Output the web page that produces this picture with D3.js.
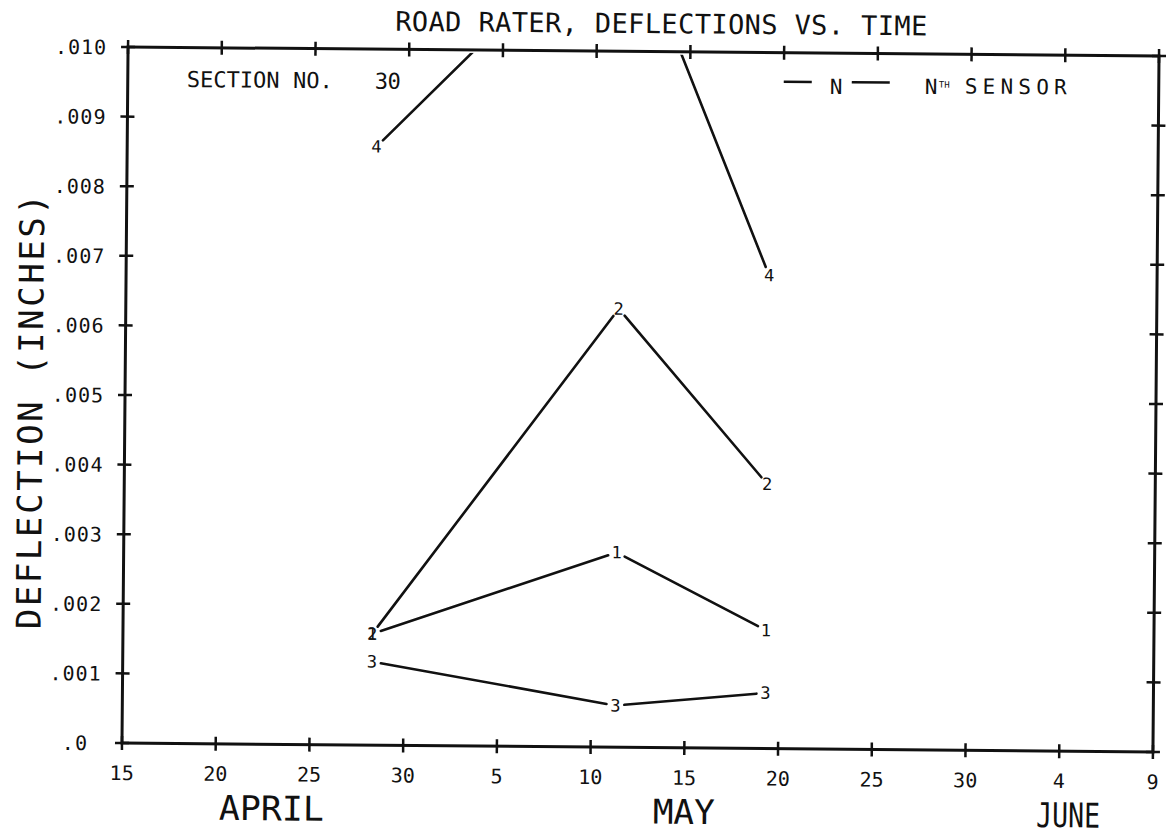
<!DOCTYPE html>
<html>
<head>
<meta charset="utf-8">
<script src="https://cdn.jsdelivr.net/npm/d3@7"></script>
<style>
  body { margin: 0; background: #fff; }
  text { font-family: "DejaVu Sans Mono", monospace; fill: #111; }
</style>
</head>
<body>
<div class="graph"></div>
<script>
// Days are counted from April 15
const tickDays = [0, 5, 10, 15, 20, 25, 30, 35, 40, 45, 50, 55];
const tickLabels = ["15", "20", "25", "30", "5", "10", "15", "20", "25", "30", "4", "9"];
const months = ["APRIL", "MAY", "JUNE"];
const monthDays = [8, 30, 50.5];

const deflTicks = [0, .001, .002, .003, .004, .005, .006, .007, .008, .009, .010];
const deflLabels = [".0", ".001", ".002", ".003", ".004", ".005", ".006", ".007", ".008", ".009", ".010"];

// test dates (Apr 28, May 11, May 19) and deflections per sensor
const testDays = [13.3, 26.3, 34.3];
const sensorNames = ["1", "2", "3", "4"];
const sensor1 = [.0016, .0028, .0017];
const sensor2 = [.0016, .0063, .0038];
const sensor3 = [.0012, .0006, .0008];
const sensor4 = [.0086, .0121, .0068];
const sensors = [sensor1, sensor2, sensor3, sensor4];

const W = 1171, H = 836;
const frame = {left: 125, right: 1156, top: 51.5, bottom: 747.5};

const svg = d3.select(".graph").append("svg")
  .attr("width", W).attr("height", H);

// the scanned sheet is slightly rotated
const g = svg.append("g")
  .attr("transform", "rotate(0.5, 640.6, 399.5)");

const x = d3.scaleLinear().domain([0, 55]).range([frame.left, frame.right]);
const y = d3.scaleLinear().domain([0, .010]).range([frame.bottom, frame.top]);

// text helper, stretches text to the plotter widths
function label(parent, txt, px, py, size, len, anchor, adjust) {
  const t = parent.append("text")
    .attr("x", px).attr("y", py)
    .attr("font-size", size)
    .attr("text-anchor", anchor || "start")
    .text(txt);
  if (len) t.attr("textLength", len).attr("lengthAdjust", adjust || "spacing");
  return t;
}

// Frame
g.append("rect")
  .attr("x", frame.left).attr("y", frame.top)
  .attr("width", frame.right - frame.left)
  .attr("height", frame.bottom - frame.top)
  .attr("fill", "none").attr("stroke", "#111").attr("stroke-width", 3);

// Cross ticks on the four sides
const tk = 7;
tickDays.forEach(function(d) {
  [frame.top, frame.bottom].forEach(function(yy) {
    g.append("line")
      .attr("x1", x(d)).attr("x2", x(d))
      .attr("y1", yy - tk).attr("y2", yy + tk)
      .attr("stroke", "#111").attr("stroke-width", 2.5);
  });
});
deflTicks.forEach(function(v) {
  [frame.left, frame.right].forEach(function(xx) {
    g.append("line")
      .attr("x1", xx - tk).attr("x2", xx + tk)
      .attr("y1", y(v)).attr("y2", y(v))
      .attr("stroke", "#111").attr("stroke-width", 2.5);
  });
});

// Tick labels
tickDays.forEach(function(d, i) {
  label(g, tickLabels[i], x(d), frame.bottom + 37, 20, null, "middle");
});
deflTicks.forEach(function(v, i) {
  label(g, deflLabels[i], 78, y(v) + 7.5, 20, null, "middle")
    .attr("letter-spacing", 1);
});
const monthWidths = [105, 62, 64];
months.forEach(function(m, i) {
  label(g, m, x(monthDays[i]), frame.bottom + 76, 34, monthWidths[i], "middle", "spacingAndGlyphs");
});

// Titles
label(g, "ROAD RATER, DEFLECTIONS VS. TIME", 658, 33, 27, 532, "middle");
g.append("text")
  .attr("transform", "translate(42.5,417) rotate(-90)")
  .attr("font-size", 34)
  .attr("text-anchor", "middle")
  .attr("textLength", 435).attr("lengthAdjust", "spacing")
  .text("DEFLECTION (INCHES)");

label(g, "SECTION NO.", 184, 91, 22, 146);
label(g, "30", 372, 91, 22, 26);

// Legend
g.append("line").attr("x1", 781).attr("x2", 809).attr("y1", 80.6).attr("y2", 80.6)
  .attr("stroke", "#111").attr("stroke-width", 2.5);
label(g, "N", 827, 92.3, 21);
g.append("line").attr("x1", 849).attr("x2", 887).attr("y1", 80.3).attr("y2", 80.3)
  .attr("stroke", "#111").attr("stroke-width", 2.5);
label(g, "N", 922, 91.5, 21);
label(g, "TH", 936, 85, 9);
label(g, "SENSOR", 962, 90.7, 21, 102);

// Data
g.append("clipPath").attr("id", "plotclip")
  .append("rect")
  .attr("x", frame.left).attr("y", frame.top + 3)
  .attr("width", frame.right - frame.left)
  .attr("height", frame.bottom - frame.top - 3);

const plot = g.append("g").attr("clip-path", "url(#plotclip)");
const gap = 9;

sensors.forEach(function(vals, s) {
  const pts = vals.map(function(v, i) { return [x(testDays[i]), y(v)]; });
  for (let i = 0; i < pts.length - 1; i++) {
    const a = pts[i], b = pts[i + 1];
    const dx = b[0] - a[0], dy = b[1] - a[1];
    const len = Math.sqrt(dx * dx + dy * dy);
    const ux = dx / len, uy = dy / len;
    plot.append("line")
      .attr("x1", a[0] + ux * gap).attr("y1", a[1] + uy * gap)
      .attr("x2", b[0] - ux * gap).attr("y2", b[1] - uy * gap)
      .attr("stroke", "#111").attr("stroke-width", 2.6)
      .attr("stroke-linecap", "round");
  }
  pts.forEach(function(p, i) {
    if (vals[i] <= .010) {
      label(plot, sensorNames[s], p[0], p[1] + 6, 17, null, "middle");
    }
  });
});
</script>
</body>
</html>
